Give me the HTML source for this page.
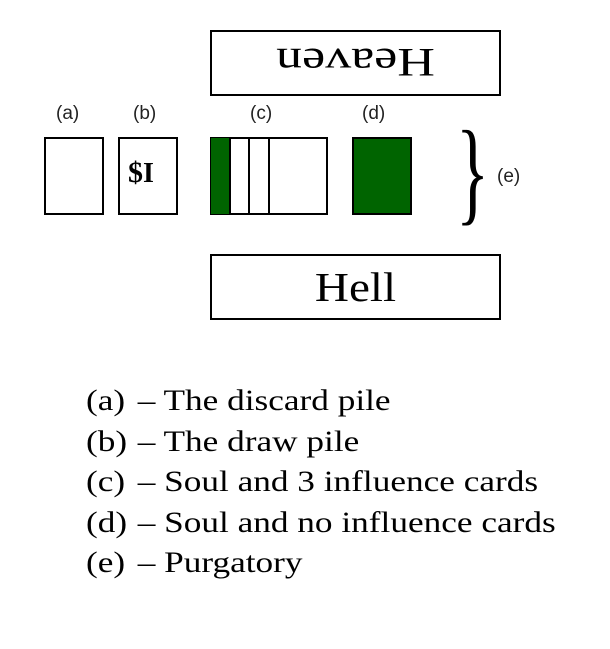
<!DOCTYPE html>
<html><head><style>
body{margin:0;width:610px;height:649px;background:#fff;position:relative;overflow:hidden;font-family:"Liberation Serif",serif;}
.b{position:absolute;border:2px solid #000;box-sizing:border-box;background:#fff;}
.g{background:#006400;}
.lab{position:absolute;font-family:"Liberation Sans",sans-serif;font-size:19px;color:#222;}
.row{position:absolute;left:86px;font-size:30px;line-height:41px;color:#000;white-space:nowrap;transform:scaleX(1.175);transform-origin:0 0;}
.row span{display:inline-block;width:44px;}
</style></head><body>
<div class="b" style="left:210px;top:30px;width:291px;height:66px;"></div>
<div style="position:absolute;left:210px;top:30px;width:291px;height:66px;display:flex;align-items:center;justify-content:center;font-size:40px;transform:rotate(180deg) scaleX(1.3);">Heaven</div>
<div class="lab" style="left:56px;top:103px;">(a)</div>
<div class="lab" style="left:133px;top:103px;">(b)</div>
<div class="lab" style="left:250px;top:103px;">(c)</div>
<div class="lab" style="left:362px;top:103px;">(d)</div>
<div class="b" style="left:44px;top:137px;width:60px;height:78px;"></div>
<div class="b" style="left:118px;top:137px;width:60px;height:78px;"></div>
<div style="position:absolute;left:128px;top:156px;font-size:30px;font-weight:bold;">$<span style="font-size:28px;">I</span></div>
<div class="b" style="left:210px;top:137px;width:118px;height:78px;"></div>
<div class="g" style="position:absolute;left:211px;top:138px;width:18px;height:76px;"></div>
<div style="position:absolute;left:229px;top:137px;width:2px;height:78px;background:#000;"></div>
<div style="position:absolute;left:248px;top:137px;width:2px;height:78px;background:#000;"></div>
<div style="position:absolute;left:268px;top:137px;width:2px;height:78px;background:#000;"></div>
<div class="b g" style="left:352px;top:137px;width:60px;height:78px;"></div>
<div style="position:absolute;left:445px;top:114px;font-size:115px;line-height:1;transform:scaleX(0.6);">}</div>
<div class="lab" style="left:497px;top:166px;">(e)</div>
<div class="b" style="left:210px;top:254px;width:291px;height:66px;"></div>
<div style="position:absolute;left:210px;top:254px;width:291px;height:66px;display:flex;align-items:center;justify-content:center;font-size:41px;transform:scaleX(1.15);">Hell</div>
<div class="row" style="top:380px;"><span>(a)</span>– The discard pile</div>
<div class="row" style="top:421px;"><span>(b)</span>– The draw pile</div>
<div class="row" style="top:461px;"><span>(c)</span>– Soul and 3 influence cards</div>
<div class="row" style="top:502px;"><span>(d)</span>– Soul and no influence cards</div>
<div class="row" style="top:542px;"><span>(e)</span>– Purgatory</div>
</body></html>
